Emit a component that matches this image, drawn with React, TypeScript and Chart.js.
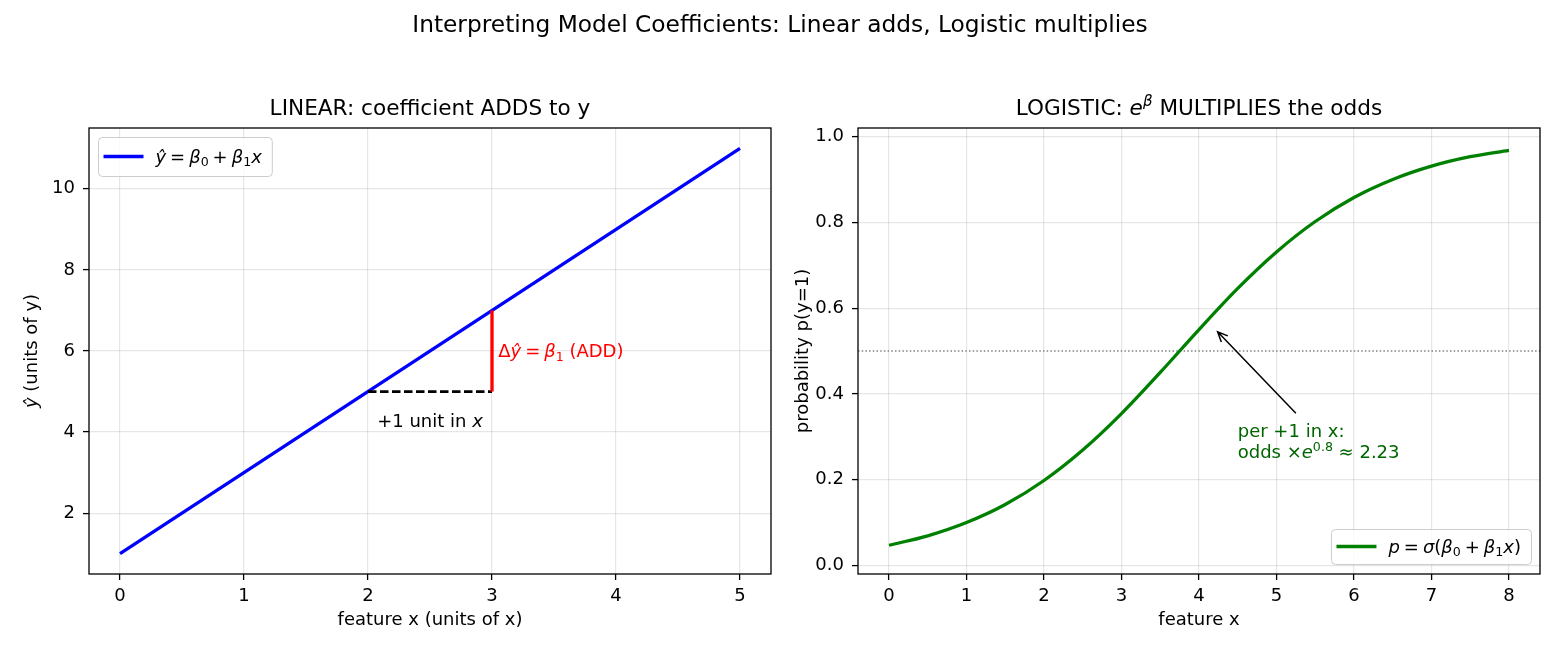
import React, { useEffect, useRef } from 'react';
import { Chart, registerables } from 'chart.js';

Chart.register(...registerables);

const FONT = '"DejaVu Sans", "Liberation Sans", Arial, sans-serif';
const GRID = 'rgba(176,176,176,0.32)';

const SUPTITLE = 'Interpreting Model Coefficients: Linear adds, Logistic multiplies';

// ---------- Left panel (linear) ----------
const LIN_X = [0, 5];
const LIN_Y = [1, 11];
const STEP_X = [2, 3];
const STEP_Y = [5, 5];
const RISE_X = [3, 3];
const RISE_Y = [5, 7];
const LEFT_X_RANGE = [-0.25, 5.25];
const LEFT_Y_RANGE = [0.5, 11.5];
const LEFT_X_TICKS = [0, 1, 2, 3, 4, 5];
const LEFT_Y_TICKS = [2, 4, 6, 8, 10];
const ADD_LABEL_AT = [3.05, 6];
const UNIT_LABEL_AT = [2.5, 4.4];

// ---------- Right panel (logistic) ----------
const LOG_X = [0, 0.5, 1, 1.5, 2, 2.5, 3, 3.5, 4, 4.5, 5, 5.5, 6, 6.5, 7, 7.5, 8];
const LOG_P = [0.047, 0.069, 0.1, 0.142, 0.198, 0.269, 0.354, 0.45, 0.55, 0.646, 0.731, 0.802, 0.858, 0.9, 0.931, 0.953, 0.968];
const HALF_LINE_Y = 0.5;
const RIGHT_X_RANGE = [-0.4, 8.4];
const RIGHT_Y_RANGE = [-0.02, 1.02];
const RIGHT_X_TICKS = [0, 1, 2, 3, 4, 5, 6, 7, 8];
const RIGHT_Y_TICKS = [0, 0.2, 0.4, 0.6, 0.8, 1.0];
const ARROW_HEAD = [4.24, 0.545];
const ARROW_TAIL = [5.25, 0.355];
const ODDS_TEXT_AT = [4.5, 0.25];

type Run = { t?: string; it?: boolean; sub?: boolean; sup?: boolean; gap?: number };

const fontStr = (size: number, it?: boolean) => `${it ? 'italic ' : ''}${size}px ${FONT}`;

function runSize(r: Run, size: number) {
  return r.sub || r.sup ? size * 0.7 : size;
}

function runWidth(ctx: CanvasRenderingContext2D, r: Run, size: number) {
  if (r.gap !== undefined) return r.gap * size;
  ctx.font = fontStr(runSize(r, size), r.it);
  return ctx.measureText(r.t || '').width;
}

function measureRich(ctx: CanvasRenderingContext2D, runs: Run[], size: number) {
  let w = 0;
  for (const r of runs) w += runWidth(ctx, r, size);
  return w;
}

function drawRich(
  ctx: CanvasRenderingContext2D,
  runs: Run[],
  x: number,
  y: number,
  size: number,
  color: string,
  align: 'left' | 'center' = 'left'
) {
  const w = measureRich(ctx, runs, size);
  let cx = align === 'center' ? x - w / 2 : x;
  ctx.save();
  ctx.textAlign = 'left';
  ctx.textBaseline = 'alphabetic';
  ctx.fillStyle = color;
  for (const r of runs) {
    const rw = runWidth(ctx, r, size);
    if (r.gap === undefined) {
      const s = runSize(r, size);
      const dy = r.sub ? size * 0.2 : r.sup ? -size * 0.42 : 0;
      ctx.font = fontStr(s, r.it);
      ctx.fillText(r.t || '', cx, y + dy);
    }
    cx += rw;
  }
  ctx.restore();
  return w;
}

// math operator with medium spacing (mathtext-like)
const op = (t: string): Run[] => [{ gap: 0.22 }, { t }, { gap: 0.22 }];

function drawLegend(
  ctx: CanvasRenderingContext2D,
  ca: any,
  corner: 'tl' | 'br',
  runs: Run[],
  color: string,
  h: number
) {
  const tw = measureRich(ctx, runs, 18);
  const w = 57.5 + tw + 10;
  const x0 = corner === 'tl' ? ca.left + 9 : ca.right - 9 - w;
  const y0 = corner === 'tl' ? ca.top + 9 : ca.bottom - 10 - h;
  ctx.save();
  ctx.beginPath();
  (ctx as any).roundRect(x0 + 0.5, y0 + 0.5, w, h, 4);
  ctx.fillStyle = 'rgba(255,255,255,0.8)';
  ctx.fill();
  ctx.strokeStyle = '#cccccc';
  ctx.lineWidth = 1;
  ctx.stroke();
  ctx.beginPath();
  ctx.moveTo(x0 + 5.5, y0 + h / 2);
  ctx.lineTo(x0 + 45.5, y0 + h / 2);
  ctx.strokeStyle = color;
  ctx.lineWidth = 3.3;
  ctx.stroke();
  ctx.restore();
  drawRich(ctx, runs, x0 + 57.5, y0 + h / 2 + 6, 18, '#000', 'left');
}

function drawCommon(chart: any, offsetX: number, title: Run[], xLabel: Run[], yLabel: Run[], yLabelX: number) {
  const ctx: CanvasRenderingContext2D = chart.ctx;
  const ca = chart.chartArea;
  // frame
  ctx.save();
  ctx.strokeStyle = '#000';
  ctx.lineWidth = 1.3;
  ctx.strokeRect(ca.left, ca.top, ca.right - ca.left, ca.bottom - ca.top);
  ctx.restore();
  // suptitle (spans both canvases)
  drawRich(ctx, [{ t: SUPTITLE }], 780 - offsetX, 32, 23.3, '#000', 'center');
  // panel title
  const cx = (ca.left + ca.right) / 2;
  drawRich(ctx, title, cx, 115, 21.6, '#000', 'center');
  // x label
  drawRich(ctx, xLabel, cx, 625, 18, '#000', 'center');
  // y label (rotated)
  ctx.save();
  ctx.translate(yLabelX, (ca.top + ca.bottom) / 2);
  ctx.rotate(-Math.PI / 2);
  drawRich(ctx, yLabel, 0, 0, 18, '#000', 'center');
  ctx.restore();
}

const pts = (xs: number[], ys: number[]) => xs.map((x, i) => ({ x, y: ys[i] }));

function scaleOpts(range: number[], ticks: number[], fmt: (v: number) => string, fit: number, isY: boolean) {
  return {
    type: 'linear' as const,
    position: isY ? 'left' : 'bottom',
    min: range[0],
    max: range[1],
    afterBuildTicks: (s: any) => {
      s.ticks = ticks.map((v) => ({ value: v }));
    },
    afterFit: (s: any) => {
      if (isY) s.width = fit;
      else s.height = fit;
    },
    grid: {
      color: GRID,
      lineWidth: 1.2,
      drawTicks: true,
      tickLength: 6,
      tickColor: '#000',
      tickWidth: 1.3,
    },
    border: { display: false },
    ticks: {
      color: '#000',
      font: { family: FONT, size: 18 },
      padding: isY ? 8 : 6,
      maxRotation: 0,
      autoSkip: false,
      callback: (v: any) => fmt(Number(v)),
    },
  };
}

function leftConfig(): any {
  const plugin = {
    id: 'leftDecor',
    afterDraw(chart: any) {
      const ctx: CanvasRenderingContext2D = chart.ctx;
      const xs = chart.scales.x;
      const ys = chart.scales.y;
      drawCommon(
        chart,
        0,
        [{ t: 'LINEAR: coefficient ADDS to y' }],
        [{ t: 'feature x (units of x)' }],
        [{ t: 'ŷ', it: true }, { t: ' (units of y)' }],
        36.5
      );
      // red annotation
      drawRich(
        ctx,
        [{ t: 'Δ' }, { t: 'ŷ', it: true }, ...op('='), { t: 'β', it: true }, { t: '1', sub: true }, { t: ' (ADD)' }],
        xs.getPixelForValue(ADD_LABEL_AT[0]),
        ys.getPixelForValue(ADD_LABEL_AT[1]) + 6,
        18,
        '#ff0000',
        'left'
      );
      // unit annotation
      drawRich(
        ctx,
        [{ t: '+1 unit in ' }, { t: 'x', it: true }],
        xs.getPixelForValue(UNIT_LABEL_AT[0]),
        ys.getPixelForValue(UNIT_LABEL_AT[1]) + 11.5,
        18,
        '#000',
        'center'
      );
      drawLegend(
        ctx,
        chart.chartArea,
        'tl',
        [
          { t: 'ŷ', it: true },
          ...op('='),
          { t: 'β', it: true },
          { t: '0', sub: true },
          ...op('+'),
          { t: 'β', it: true },
          { t: '1', sub: true },
          { t: 'x', it: true },
        ],
        '#0000ff',
        39
      );
    },
  };
  return {
    type: 'scatter',
    data: {
      datasets: [
        {
          data: pts(LIN_X, LIN_Y),
          showLine: true,
          borderColor: '#0000ff',
          borderWidth: 3.3,
          pointRadius: 0,
          order: 3,
        },
        {
          data: pts(STEP_X, STEP_Y),
          showLine: true,
          borderColor: '#000',
          borderWidth: 2.8,
          borderDash: [8.5, 3.5],
          pointRadius: 0,
          order: 2,
        },
        {
          data: pts(RISE_X, RISE_Y),
          showLine: true,
          borderColor: '#ff0000',
          borderWidth: 3.3,
          pointRadius: 0,
          order: 1,
        },
      ],
    },
    options: {
      responsive: false,
      animation: false,
      devicePixelRatio: 1,
      layout: { padding: { left: 0, top: 128, right: 9, bottom: 0 } },
      plugins: { legend: { display: false }, tooltip: { enabled: false }, title: { display: false } },
      scales: {
        x: scaleOpts(LEFT_X_RANGE, LEFT_X_TICKS, (v) => String(v), 76, false),
        y: scaleOpts(LEFT_Y_RANGE, LEFT_Y_TICKS, (v) => String(v), 89, true),
      },
    },
    plugins: [plugin],
  };
}

function rightConfig(): any {
  const plugin = {
    id: 'rightDecor',
    afterDraw(chart: any) {
      const ctx: CanvasRenderingContext2D = chart.ctx;
      const xs = chart.scales.x;
      const ys = chart.scales.y;
      drawCommon(
        chart,
        780,
        [{ t: 'LOGISTIC: ' }, { t: 'e', it: true }, { t: 'β', it: true, sup: true }, { t: ' MULTIPLIES the odds' }],
        [{ t: 'feature x' }],
        [{ t: 'probability p(y=1)' }],
        28
      );
      // arrow
      const hx = xs.getPixelForValue(ARROW_HEAD[0]);
      const hy = ys.getPixelForValue(ARROW_HEAD[1]);
      const tx = xs.getPixelForValue(ARROW_TAIL[0]);
      const ty = ys.getPixelForValue(ARROW_TAIL[1]);
      const ang = Math.atan2(hy - ty, hx - tx);
      const L = 11;
      const a = 0.42;
      ctx.save();
      ctx.strokeStyle = '#000';
      ctx.lineWidth = 1.5;
      ctx.beginPath();
      ctx.moveTo(tx, ty);
      ctx.lineTo(hx, hy);
      ctx.moveTo(hx - L * Math.cos(ang - a), hy - L * Math.sin(ang - a));
      ctx.lineTo(hx, hy);
      ctx.lineTo(hx - L * Math.cos(ang + a), hy - L * Math.sin(ang + a));
      ctx.stroke();
      ctx.restore();
      // annotation text
      const ax = xs.getPixelForValue(ODDS_TEXT_AT[0]);
      const ay = ys.getPixelForValue(ODDS_TEXT_AT[1]);
      drawRich(ctx, [{ t: 'per +1 in x:' }], ax, ay - 21.4, 18, '#006400', 'left');
      drawRich(
        ctx,
        [{ t: 'odds ' }, { t: '×' }, { t: 'e', it: true }, { t: '0.8', sup: true }, { t: ' ≈ 2.23' }],
        ax,
        ay,
        18,
        '#006400',
        'left'
      );
      drawLegend(
        ctx,
        chart.chartArea,
        'br',
        [
          { t: 'p', it: true },
          ...op('='),
          { t: 'σ', it: true },
          { t: '(' },
          { t: 'β', it: true },
          { t: '0', sub: true },
          ...op('+'),
          { t: 'β', it: true },
          { t: '1', sub: true },
          { t: 'x', it: true },
          { t: ')' },
        ],
        '#008000',
        35
      );
    },
  };
  return {
    type: 'scatter',
    data: {
      datasets: [
        {
          data: pts(LOG_X, LOG_P),
          showLine: true,
          borderColor: '#008000',
          borderWidth: 3.3,
          pointRadius: 0,
          cubicInterpolationMode: 'monotone',
          order: 1,
        },
        {
          data: pts(RIGHT_X_RANGE, [HALF_LINE_Y, HALF_LINE_Y]),
          showLine: true,
          borderColor: '#808080',
          borderWidth: 1.3,
          borderDash: [1.5, 2.2],
          pointRadius: 0,
          order: 2,
        },
      ],
    },
    options: {
      responsive: false,
      animation: false,
      devicePixelRatio: 1,
      layout: { padding: { left: 0, top: 128, right: 20, bottom: 0 } },
      plugins: { legend: { display: false }, tooltip: { enabled: false }, title: { display: false } },
      scales: {
        x: scaleOpts(RIGHT_X_RANGE, RIGHT_X_TICKS, (v) => String(v), 76, false),
        y: scaleOpts(RIGHT_Y_RANGE, RIGHT_Y_TICKS, (v) => v.toFixed(1), 78, true),
      },
    },
    plugins: [plugin],
  };
}

export default function App() {
  const leftRef = useRef<HTMLCanvasElement>(null);
  const rightRef = useRef<HTMLCanvasElement>(null);
  useEffect(() => {
    const c1 = new Chart(leftRef.current as HTMLCanvasElement, leftConfig());
    const c2 = new Chart(rightRef.current as HTMLCanvasElement, rightConfig());
    return () => {
      c1.destroy();
      c2.destroy();
    };
  }, []);
  return (
    <div style={{ position: 'absolute', left: 0, top: 0, width: 1560, height: 650, background: '#ffffff' }}>
      <canvas
        ref={leftRef}
        width={780}
        height={650}
        style={{ position: 'absolute', left: 0, top: 0, width: 780, height: 650 }}
      />
      <canvas
        ref={rightRef}
        width={780}
        height={650}
        style={{ position: 'absolute', left: 780, top: 0, width: 780, height: 650 }}
      />
    </div>
  );
}
